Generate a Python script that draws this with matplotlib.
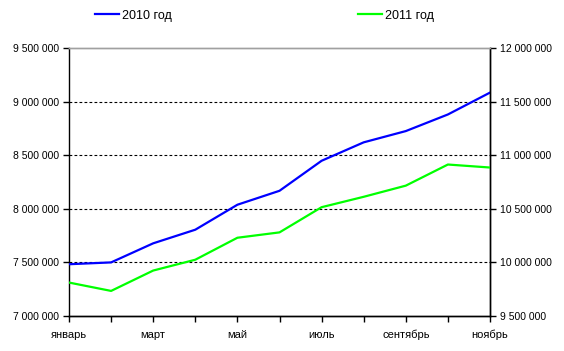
import matplotlib
matplotlib.use("Agg")
import matplotlib.pyplot as plt
from matplotlib.ticker import FuncFormatter, FixedLocator
from matplotlib.lines import Line2D

plt.rcParams['font.family'] = ['Liberation Sans', 'DejaVu Sans']

months = ["январь", "февраль", "март", "апрель", "май", "июнь", "июль",
          "август", "сентябрь", "октябрь", "ноябрь"]
sales_2010 = [7483000, 7500000, 7678000, 7805000, 8038000, 8168000, 8448000,
              8620000, 8725000, 8880000, 9084000]
sales_2011 = [9812000, 9734000, 9924000, 10025000, 10230000, 10280000,
              10515000, 10612000, 10716000, 10913000, 10885000]
label_2010 = "2010 год"
label_2011 = "2011 год"

def fmt(v, pos):
    return "{:,}".format(int(round(v))).replace(",", " ")

fig = plt.figure(figsize=(5.64, 3.51), dpi=100)
ax = fig.add_axes([69/564, 35/351, (490-69)/564, (316-48)/351])
ax2 = ax.twinx()

x = list(range(len(months)))
ax.plot(x, sales_2010, color="#0000FF", lw=1.6, zorder=3, solid_joinstyle='round')
ax2.plot(x, sales_2011, color="#00FF00", lw=1.6, zorder=3, solid_joinstyle='round')

ax.set_xlim(0, len(months) - 1)
ax.set_ylim(7000000, 9500000)
ax2.set_ylim(9500000, 12000000)
ax.yaxis.set_major_locator(FixedLocator([7000000 + 500000*i for i in range(6)]))
ax2.yaxis.set_major_locator(FixedLocator([9500000 + 500000*i for i in range(6)]))
ax.yaxis.set_major_formatter(FuncFormatter(fmt))
ax2.yaxis.set_major_formatter(FuncFormatter(fmt))

ax.set_xticks(x)
ax.set_xticklabels([m if i % 2 == 0 else "" for i, m in enumerate(months)])

for g in [7500000, 8000000, 8500000, 9000000]:
    ax.axhline(g, color="black", lw=0.8, ls=(0, (2.5, 2)), zorder=1)

for a in (ax, ax2):
    a.spines['top'].set_color('#A0A0A0')
    a.spines['top'].set_linewidth(1.0)
    for s in ('left', 'right', 'bottom'):
        a.spines[s].set_color('black')
        a.spines[s].set_linewidth(1.0)
    a.tick_params(axis='y', length=4, width=1, labelsize=7.5, pad=3)
ax.tick_params(axis='x', length=4, width=1, labelsize=8, pad=6)
ax2.spines['left'].set_visible(False)

handles = [Line2D([], [], color="#0000FF", lw=1.6), Line2D([], [], color="#00FF00", lw=1.6)]
fig.legend(handles, [label_2010, label_2011], loc='center', bbox_to_anchor=(0.469, 0.955),
           ncol=2, frameon=False, fontsize=9, handlelength=1.9, handletextpad=0.25,
           columnspacing=14.9)

fig.savefig("out.png", dpi=100)
